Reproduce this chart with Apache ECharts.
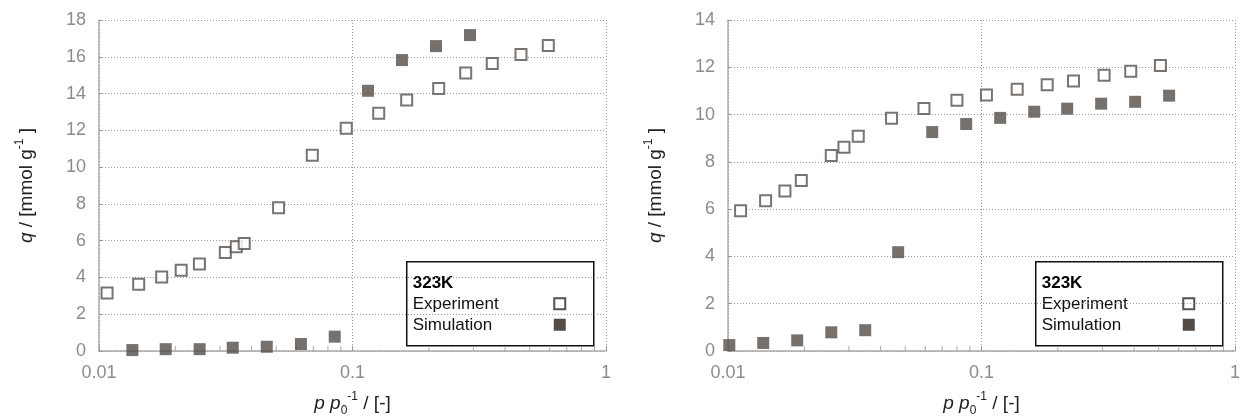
<!DOCTYPE html>
<html><head><meta charset="utf-8">
<script src="https://cdn.jsdelivr.net/npm/echarts@6/dist/echarts.min.js"></script>
<style>html,body{margin:0;padding:0;background:#fff}#c{width:1242px;height:419px}</style>
</head><body><div id="c"></div>
<script>
// ---- data ----
const leftExpX = [0.01076,0.01434,0.01767,0.0211,0.0249,0.0315,0.0348,0.0374,0.0511,0.0694,0.0945,0.1269,0.1636,0.2188,0.2796,0.356,0.462,0.592];
const leftExpY = [3.15,3.63,4.02,4.39,4.73,5.35,5.67,5.84,7.79,10.64,12.11,12.93,13.65,14.28,15.12,15.64,16.13,16.62];
const leftSimX = [0.01354,0.01833,0.02495,0.0337,0.0459,0.0626,0.0851,0.1151,0.1567,0.2135,0.2907];
const leftSimY = [0.05,0.1,0.1,0.18,0.23,0.38,0.78,14.15,15.82,16.58,17.18];
const rightExpX = [0.01121,0.01407,0.01677,0.01946,0.02555,0.02867,0.03265,0.04417,0.0593,0.08,0.1046,0.1383,0.1816,0.2306,0.3046,0.388,0.5079];
const rightExpY = [5.93,6.35,6.77,7.21,8.27,8.62,9.08,9.84,10.26,10.61,10.83,11.07,11.26,11.42,11.66,11.83,12.08];
const rightSimX = [0.01012,0.01377,0.01875,0.02555,0.03478,0.0469,0.0639,0.087,0.1185,0.1614,0.2178,0.2965,0.4036,0.5497];
const rightSimY = [0.25,0.34,0.45,0.79,0.88,4.18,9.26,9.6,9.86,10.12,10.25,10.46,10.54,10.80];
const minorTickX = [0.02,0.03,0.04,0.05,0.06,0.07,0.08,0.09,0.2,0.3,0.4,0.5,0.6,0.7,0.8,0.9];
const legendTitle = '323K';
const seriesNames = ['Experiment','Simulation'];
const yMaxLeft = 18, yMaxRight = 14;

// ---- chart ----
const FONT = "'Liberation Sans', Arial, Helvetica, sans-serif";
const MARK = '#544d47';
const GRAY = '#8c8c8c';
const zip = (xs, ys) => xs.map((x, i) => [x, ys[i]]);

const chart = echarts.init(document.getElementById('c'), null, {renderer: 'canvas'});

const grids = [
  {left: 99, right: 636, top: 20, bottom: 68, containLabel: false, outerBoundsMode: 'none'},
  {left: 728, right: 7, top: 20, bottom: 68, containLabel: false, outerBoundsMode: 'none'}
];

function xAxisDef(gi) {
  return {
    type: 'log', logBase: 10, min: 0.01, max: 1, gridIndex: gi,
    name: '{i|p} {i|p}{sub|0}{sup|-1} / [-]',
    nameLocation: 'middle', nameGap: 40,
    nameTextStyle: {
      fontFamily: FONT, fontSize: 19, color: '#222', lineHeight: 26,
      rich: {
        i: {fontFamily: FONT, fontSize: 19, fontStyle: 'italic', color: '#222'},
        sub: {fontFamily: FONT, fontSize: 12, color: '#222', verticalAlign: 'bottom', lineHeight: 12},
        sup: {fontFamily: FONT, fontSize: 12, color: '#222', verticalAlign: 'top', lineHeight: 12}
      }
    },
    axisLine: {show: true, lineStyle: {color: '#a8a8a8', width: 1.5, type: [3, 1]}},
    axisTick: {show: true, inside: true, length: 5, lineStyle: {color: '#999'}},
    axisLabel: {fontFamily: FONT, fontSize: 18, color: GRAY, margin: 13},
    splitLine: {show: true, lineStyle: {color: '#9a9a9a', width: 1, type: [1, 2]}}
  };
}
function yAxisDef(gi, max) {
  return {
    type: 'value', min: 0, max: max, interval: 2, gridIndex: gi,
    name: '{i|q} / [mmol g{sup|-1} ]',
    nameLocation: 'middle', nameGap: 59, nameRotate: 90,
    nameTextStyle: {
      fontFamily: FONT, fontSize: 19, color: '#222', lineHeight: 26,
      rich: {
        i: {fontFamily: FONT, fontSize: 19, fontStyle: 'italic', color: '#222'},
        sup: {fontFamily: FONT, fontSize: 12, color: '#222', verticalAlign: 'top', lineHeight: 12}
      }
    },
    axisLine: {show: true, lineStyle: {color: '#a8a8a8', width: 1.5, type: [3, 1]}},
    axisTick: {show: true, inside: true, length: 4, lineStyle: {color: '#999'}},
    axisLabel: {fontFamily: FONT, fontSize: 18, color: GRAY, margin: 13},
    splitLine: {show: true, lineStyle: {color: '#9a9a9a', width: 1, type: [1, 2]}}
  };
}

const openStyle = {color: '#fff', borderColor: '#57514c', borderWidth: 2};
const fillStyle = {color: MARK};

function scatter(name, gi, data, open) {
  return {
    name: name, type: 'scatter', xAxisIndex: gi, yAxisIndex: gi,
    data: data, symbol: 'rect', symbolSize: open ? 11 : 12,
    itemStyle: open ? openStyle : fillStyle, clip: false, z: 5,
    emphasis: {disabled: true}
  };
}
function minorTicks(gi) {
  return {
    type: 'scatter', xAxisIndex: gi, yAxisIndex: gi, silent: true,
    data: minorTickX.map(x => [x, 0]), symbol: 'rect', symbolSize: [1, 5],
    symbolOffset: [0, -2.5], itemStyle: {color: '#999'}, z: 1, clip: false,
    emphasis: {disabled: true}
  };
}

function legendBox(x0, markX) {
  return {
    type: 'group', left: x0, top: 261,
    children: [
      {type: 'rect', shape: {x: 0, y: 0, width: 187, height: 84},
       style: {fill: '#fff', stroke: '#111', lineWidth: 1.5}},
      {type: 'text', x: 6, y: 22, style: {text: legendTitle, font: "bold 17px " + FONT, fill: '#000', verticalAlign: 'middle'}},
      {type: 'text', x: 6, y: 43, style: {text: seriesNames[0], font: "17px " + FONT, fill: '#111', verticalAlign: 'middle'}},
      {type: 'text', x: 6, y: 64, style: {text: seriesNames[1], font: "17px " + FONT, fill: '#111', verticalAlign: 'middle'}},
      {type: 'rect', shape: {x: markX - 5.5, y: 42 - 5.5, width: 11, height: 11},
       style: {fill: '#fff', stroke: '#57514c', lineWidth: 2}},
      {type: 'rect', shape: {x: markX - 6, y: 63 - 6, width: 12, height: 12},
       style: {fill: MARK}}
    ]
  };
}

chart.setOption({
  animation: false,
  backgroundColor: '#fff',
  grid: grids,
  xAxis: [xAxisDef(0), xAxisDef(1)],
  yAxis: [yAxisDef(0, yMaxLeft), yAxisDef(1, yMaxRight)],
  series: [
    minorTicks(0), minorTicks(1),
    scatter(seriesNames[0], 0, zip(leftExpX, leftExpY), true),
    scatter(seriesNames[1], 0, zip(leftSimX, leftSimY), false),
    scatter(seriesNames[0], 1, zip(rightExpX, rightExpY), true),
    scatter(seriesNames[1], 1, zip(rightSimX, rightSimY), false)
  ],
  graphic: [legendBox(406, 153), legendBox(1035, 153)]
});
</script>
</body></html>
